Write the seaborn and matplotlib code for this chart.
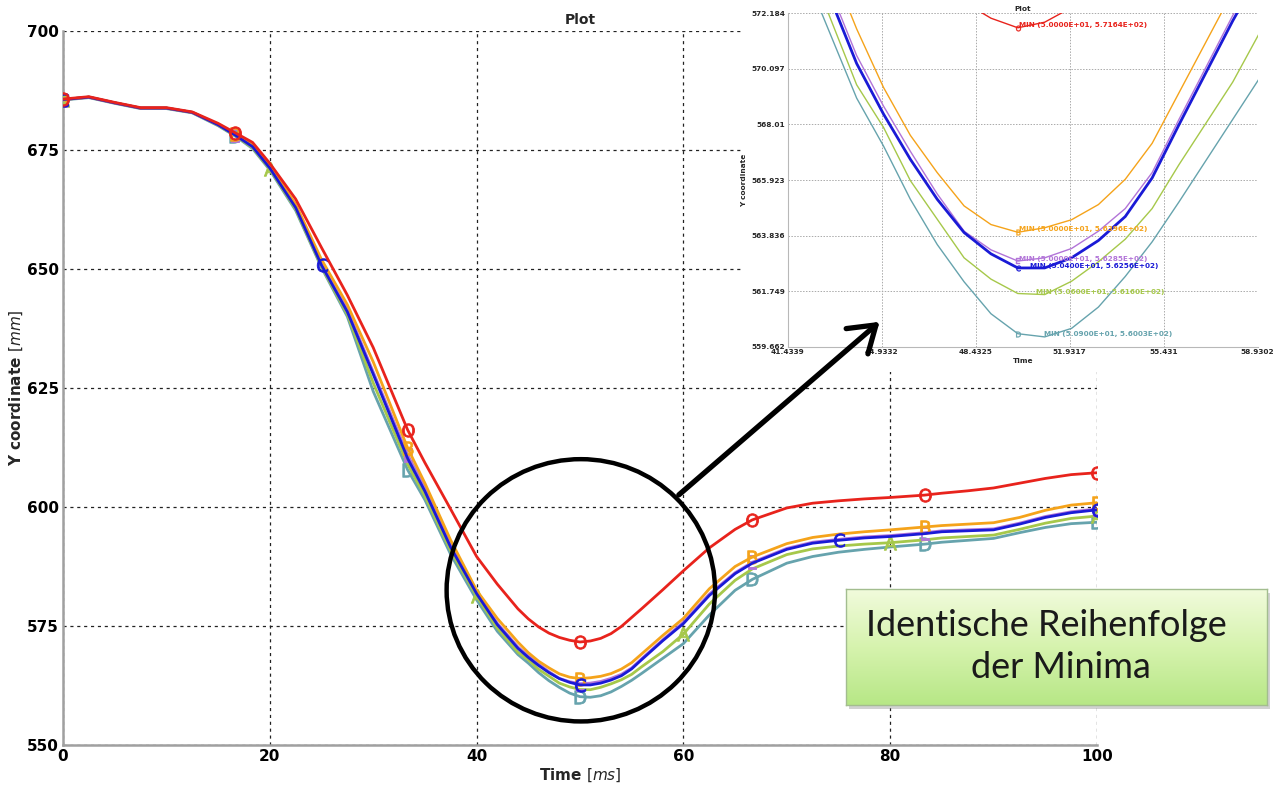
import numpy as np
import pandas as pd
import matplotlib
matplotlib.use("Agg")
import matplotlib.pyplot as plt
import seaborn as sns
from matplotlib.patches import Ellipse, Rectangle, FancyArrowPatch
from matplotlib.ticker import MultipleLocator
from matplotlib.colors import LinearSegmentedColormap

# ---------------- data ----------------
T = [0, 2.5, 5, 7.5, 10, 12.5, 15, 16.67, 18.33, 20, 22.5, 25, 27.5, 30, 33.33, 35, 37.5,
     40, 42, 44, 45, 46, 47, 48, 49, 50, 51, 52, 53, 54, 55, 56, 58, 60, 62.5, 65, 66.67,
     70, 72.5, 75, 77.5, 80, 83.33, 85, 87.5, 90, 92.5, 95, 97.5, 100]

red = [685.7, 686.2, 685.0, 683.9, 683.9, 683.0, 680.6, 678.6, 676.6, 672.2, 664.7, 654.5, 644.5,
       633.5, 616.2, 609.3, 599.5, 589.6, 583.8, 578.6, 576.5, 574.8, 573.5, 572.6, 572.0, 571.64,
       571.85, 572.4, 573.4, 574.9, 576.8, 578.7, 582.6, 586.6, 591.4, 595.3, 597.3, 599.8, 600.8,
       601.3, 601.7, 602.0, 602.5, 602.9, 603.4, 604.0, 605.0, 606.0, 606.8, 607.2]
orange = [685.6, 686.1, 684.9, 683.8, 683.8, 682.9, 680.4, 678.3, 676.0, 671.6, 663.6, 652.0, 642.5,
          630.5, 612.4, 605.0, 593.0, 582.5, 576.6, 571.6, 569.4, 567.6, 566.2, 564.95, 564.25, 563.96,
          564.13, 564.43, 565.0, 565.95, 567.3, 569.2, 573.0, 576.6, 582.8, 587.5, 589.5, 592.3, 593.6,
          594.3, 594.8, 595.2, 595.8, 596.1, 596.4, 596.7, 597.8, 599.3, 600.4, 600.9]
purple = [685.6, 686.1, 684.9, 683.8, 683.8, 682.9, 680.3, 678.2, 675.8, 671.3, 663.2, 651.0, 641.5,
          628.4, 611.0, 604.0, 592.0, 582.0, 575.6, 570.6, 568.7, 567.0, 565.4, 564.0, 563.3, 562.88,
          563.0, 563.35, 564.0, 564.85, 566.2, 568.2, 572.1, 575.8, 581.7, 586.2, 588.4, 591.3, 592.6,
          593.2, 593.7, 594.0, 594.6, 595.0, 595.2, 595.4, 596.6, 598.0, 599.0, 599.6]
blue = [685.6, 686.1, 684.9, 683.8, 683.8, 682.9, 680.3, 678.1, 675.7, 671.2, 662.9, 650.8, 641.0,
        627.9, 610.2, 603.3, 591.5, 581.8, 575.3, 570.3, 568.4, 566.7, 565.2, 563.95, 563.15, 562.62,
        562.62, 563.0, 563.65, 564.55, 566.0, 568.0, 571.9, 575.5, 581.4, 586.0, 588.2, 591.1, 592.4,
        593.0, 593.5, 593.8, 594.4, 594.8, 595.0, 595.2, 596.4, 597.8, 598.8, 599.4]
green = [685.6, 686.1, 684.9, 683.8, 683.8, 682.9, 680.2, 678.0, 675.5, 671.0, 662.6, 650.5, 640.5,
         626.1, 609.0, 602.3, 590.8, 581.3, 574.6, 569.5, 567.9, 565.9, 564.45, 563.0, 562.2, 561.66,
         561.62, 562.12, 562.85, 563.7, 564.85, 566.5, 569.6, 573.3, 579.6, 584.6, 587.0, 590.0, 591.2,
         591.8, 592.2, 592.5, 593.1, 593.5, 593.8, 594.1, 595.3, 596.6, 597.6, 598.1]
teal = [685.5, 686.0, 684.8, 683.7, 683.7, 682.8, 680.1, 677.9, 675.3, 670.8, 662.3, 650.3, 640.0,
        624.3, 607.8, 601.5, 590.0, 580.5, 573.9, 569.0, 567.2, 565.2, 563.5, 562.1, 560.9, 560.15,
        560.03, 560.35, 561.15, 562.3, 563.6, 565.1, 568.2, 571.3, 577.3, 582.5, 584.8, 588.2, 589.6,
        590.5, 591.1, 591.6, 592.2, 592.6, 593.0, 593.4, 594.6, 595.7, 596.5, 596.8]

series_names = ["teal", "green", "purple", "orange", "blue", "red"]
series_vals = [teal, green, purple, orange, blue, red]
series_colors = ["#66a3ad", "#a6c84a", "#b274d8", "#f5a31a", "#1a1ad6", "#e8231c"]
series_letters = ["D", "A", "E", "B", "C", "O"]
marks_sixth = [0, 16.67, 33.33, 50, 66.67, 83.33, 100]
series_mark_times = [marks_sixth, [0, 20, 40, 60, 80, 100], marks_sixth, marks_sixth,
                     [0, 25, 50, 75, 100], marks_sixth]

# minima reported in the zoomed inset
min_t = [50.9, 50.6, 50.0, 50.0, 50.4, 50.0]
min_v = [560.03, 561.60, 562.85, 563.96, 562.56, 571.64]

main_xticks = [0, 20, 40, 60, 80, 100]
main_yticks = [550, 575, 600, 625, 650, 675, 700]
inset_xticks = [41.4339, 44.9332, 48.4325, 51.9317, 55.431, 58.9302]
inset_yticks = [559.662, 561.749, 563.836, 565.923, 568.01, 570.097, 572.184]

# ---------------- figure ----------------
sns.set_theme(style="white")
plt.rcParams["font.family"] = ["DejaVu Sans"]
plt.rcParams["mathtext.fontset"] = "dejavusans"

W, H = 1285, 794
fig = plt.figure(figsize=(W / 100, H / 100), dpi=100)
fig.patch.set_facecolor("white")


def fx(px):
    return px / W


def fy(py):
    return 1 - py / H


Tarr = np.array(T)

# ---- main axes ----
ax = fig.add_axes([fx(63), fy(745), fx(1097) - fx(63), fy(31) - fy(745)])
for z, (vals, col, let, mt) in enumerate(zip(series_vals, series_colors, series_letters, series_mark_times)):
    v = np.array(vals)
    sns.lineplot(x=Tarr, y=v, color=col, lw=2.0, ax=ax, zorder=3 + z, legend=False)
    m = np.isin(np.round(Tarr, 2), np.round(mt, 2))
    sns.scatterplot(x=Tarr[m], y=v[m], marker=r"$\mathsf{" + let + "}$", s=95, color=col,
                    edgecolor=col, linewidth=0.6, ax=ax, zorder=3.5 + z, legend=False)

ax.set_xlim(0, 100)
ax.set_ylim(550, 700)
ax.set_xticks(main_xticks)
ax.set_yticks(main_yticks)
ax.set_xticklabels([str(v) for v in main_xticks], fontweight="bold", fontsize=11)
ax.set_yticklabels([str(v) for v in main_yticks], fontweight="bold", fontsize=11)
ax.xaxis.set_minor_locator(MultipleLocator(10))
ax.yaxis.set_minor_locator(MultipleLocator(12.5))
ax.tick_params(which="both", direction="in", color="#a0a0a0", length=3, width=1)
ax.tick_params(which="major", pad=3, labelcolor="black")
ax.grid(True, which="major", color="#222222", linestyle=(0, (2.5, 3)), lw=0.9)
ax.grid(False, which="minor")
for s in ["top", "right"]:
    ax.spines[s].set_visible(False)
for s in ["left", "bottom"]:
    ax.spines[s].set_color("#a0a0a0")
    ax.spines[s].set_linewidth(1.8)
ax.set_title("Plot", fontweight="bold", fontsize=10, pad=5)
ax.set_ylabel(r"Y coordinate $\left[mm\right]$", fontweight="bold", fontsize=11, labelpad=1)
ax.set_xlabel(r"Time $\left[ms\right]$", fontweight="bold", fontsize=11, labelpad=2)

# highlight circle around the minima
ax.add_patch(Ellipse((50.08, 582.5), 25.96, 55.1, fill=False, ec="black", lw=3.2,
                     zorder=20, clip_on=False))

# white area behind the pasted zoom
fig.add_artist(Rectangle((fx(742), fy(372)), 1 - fx(742), 1 - fy(372), transform=fig.transFigure,
                         facecolor="white", edgecolor="none", zorder=1))

# ---- inset (zoom on minima) ----
axi = fig.add_axes([fx(787.7), fy(346.7), fx(1257.7) - fx(787.7), fy(13.3) - fy(346.7)])
axi.set_zorder(2)
axi.set_facecolor("white")
for z, (vals, col, let, mt) in enumerate(zip(series_vals, series_colors, series_letters, series_mark_times)):
    v = np.array(vals)
    lw = 2.0 if col == "#1a1ad6" else 1.0
    sns.lineplot(x=Tarr, y=v, color=col, lw=lw, ax=axi, zorder=3 + z, legend=False)
    m = np.isin(np.round(Tarr, 2), np.round(mt, 2))
    sns.scatterplot(x=Tarr[m], y=v[m], marker=r"$\mathsf{" + let + "}$", s=16, color=col,
                    edgecolor=col, linewidth=0.3, ax=axi, zorder=3.5 + z, legend=False)
for col, mt_, mv_ in zip(series_colors, min_t, min_v):
    axi.text(mt_ + 0.06, mv_ + 0.12, f"MIN ({mt_:.4E}, {mv_:.4E})", color=col, fontsize=5.2,
             fontweight="bold", va="center", ha="left", zorder=15)
axi.set_xlim(inset_xticks[0], inset_xticks[-1])
axi.set_ylim(inset_yticks[0], inset_yticks[-1])
axi.set_xticks(inset_xticks)
axi.set_yticks(inset_yticks)
axi.set_xticklabels([f"{v:g}" for v in inset_xticks], fontsize=5.3, fontweight="bold")
axi.set_yticklabels([f"{v:g}" for v in inset_yticks], fontsize=5.3, fontweight="bold")
axi.tick_params(length=0, pad=2)
axi.grid(True, color="#aaaaaa", linestyle=(0, (1.5, 1.5)), lw=0.7)
for s in ["top", "right"]:
    axi.spines[s].set_visible(False)
for s in ["left", "bottom"]:
    axi.spines[s].set_color("#b8b8b8")
    axi.spines[s].set_linewidth(0.8)
axi.set_title("Plot", fontsize=5.3, fontweight="bold", pad=2)
axi.set_ylabel("Y coordinate", fontsize=5.3, fontweight="bold", labelpad=3)
axi.set_xlabel("Time", fontsize=5.3, fontweight="bold", labelpad=2)

# ---- arrow from circle to inset ----
fig.add_artist(FancyArrowPatch((fx(676.7), fy(496.7)), (fx(881.7), fy(320)),
                               transform=fig.transFigure,
                               arrowstyle="->,head_length=0.6,head_width=0.4",
                               mutation_scale=30, lw=3.8, color="black", zorder=5))

# ---- green callout box ----
fig.add_artist(Rectangle((fx(849), fy(709)), fx(1270) - fx(849), fy(593) - fy(709),
                         transform=fig.transFigure, facecolor="#9a9a9a", alpha=0.45,
                         edgecolor="none", zorder=2.5))
axb = fig.add_axes([fx(846), fy(705), fx(1267) - fx(846), fy(589.3) - fy(705)])
axb.set_zorder(3)
cm = LinearSegmentedColormap.from_list("boxgrad", ["#f1fbdc", "#d6f3ae", "#b7e786"])
grad = np.linspace(0, 1, 200).reshape(-1, 1)
axb.imshow(grad, aspect="auto", cmap=cm, extent=(0, 1, 0, 1), origin="upper")
axb.set_xticks([])
axb.set_yticks([])
for s in axb.spines.values():
    s.set_color("#a3bd8f")
    s.set_linewidth(1.0)
axb.text(0.477, (705 - 625) / 115.7, "Identische Reihenfolge", ha="center", va="center",
         fontsize=26, family=["Lato", "DejaVu Sans"], color="#1a1a1a")
axb.text(0.511, (705 - 668) / 115.7, "der Minima", ha="center", va="center",
         fontsize=26, family=["Lato", "DejaVu Sans"], color="#1a1a1a")

fig.savefig("out.png", dpi=100, facecolor="white")
